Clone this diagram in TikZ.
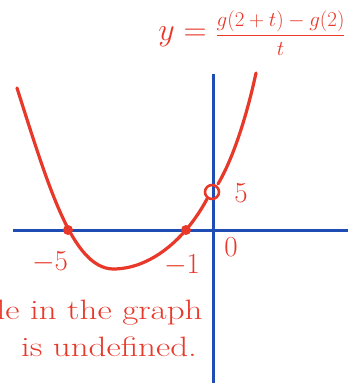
\RequirePackage{fix-cm}
\documentclass[tikz,border=0pt]{standalone}
\usepackage{tikz}
\usetikzlibrary{calc,arrows.meta}
\definecolor{pen}{HTML}{E8382A}
\definecolor{axisblue}{HTML}{1F4DB4}

\begin{document}
\begin{tikzpicture}[x=1pt, y=-1pt, >=Stealth,
    curve/.style={pen, line width=3.2pt, line cap=round, line join=round},
    axisline/.style={axisblue, line width=3pt},
    lbl/.style={pen, font=\fontsize{29}{31}\selectfont},
    note/.style={pen, font=\fontsize{28}{30}\selectfont, xscale=1.25}]
        % Fix the frame
        \useasboundingbox (0,0) rectangle (348,383);
        \clip (0,0) rectangle (348,383);
        
        % Draw axes
        \draw[axisline] (13,230) -- (348,230);
        \draw[axisline] (213,74) -- (213,383);
        
        % Draw the curve, left part up to the hole
        \draw[curve] (17,88) .. controls (48,185) and (72,268) .. (113,269)
            .. controls (150,269) and (185,240) .. (207,199);
        % right part after the hole
        \draw[curve] (218,184) .. controls (235,155) and (248,110) .. (256,73);
        
        % Mark the zeros and the hole
        \fill[pen] (68,230) circle (5pt);
        \fill[pen] (186,230) circle (5pt);
        \draw[pen, line width=2.6pt] (212,192) circle (7pt);
        
        % Axis labels
        \node[lbl] (m5) at (50,262) {$-5$};
        \node[lbl] (m1) at (182,265) {$-1$};
        \node[lbl] (zero) at (231,247) {$0$};
        \node[lbl] (five) at (241,193) {$5$};
        
        % Formula at the top
        \node[pen, inner sep=0pt] (lhs) at (252,33)
            {{\fontsize{32}{34}\selectfont$y={}$}{\fontsize{21}{23}\selectfont$\displaystyle\frac{g(2+t)-g(2)}{t}$}};
        
        % Note below the graph
        \node[note, anchor=east] (note1) at (207,313) {hole in the graph};
        \node[note] (note2) at (109,347) {is undefined.};
    \end{tikzpicture}
\end{document}
